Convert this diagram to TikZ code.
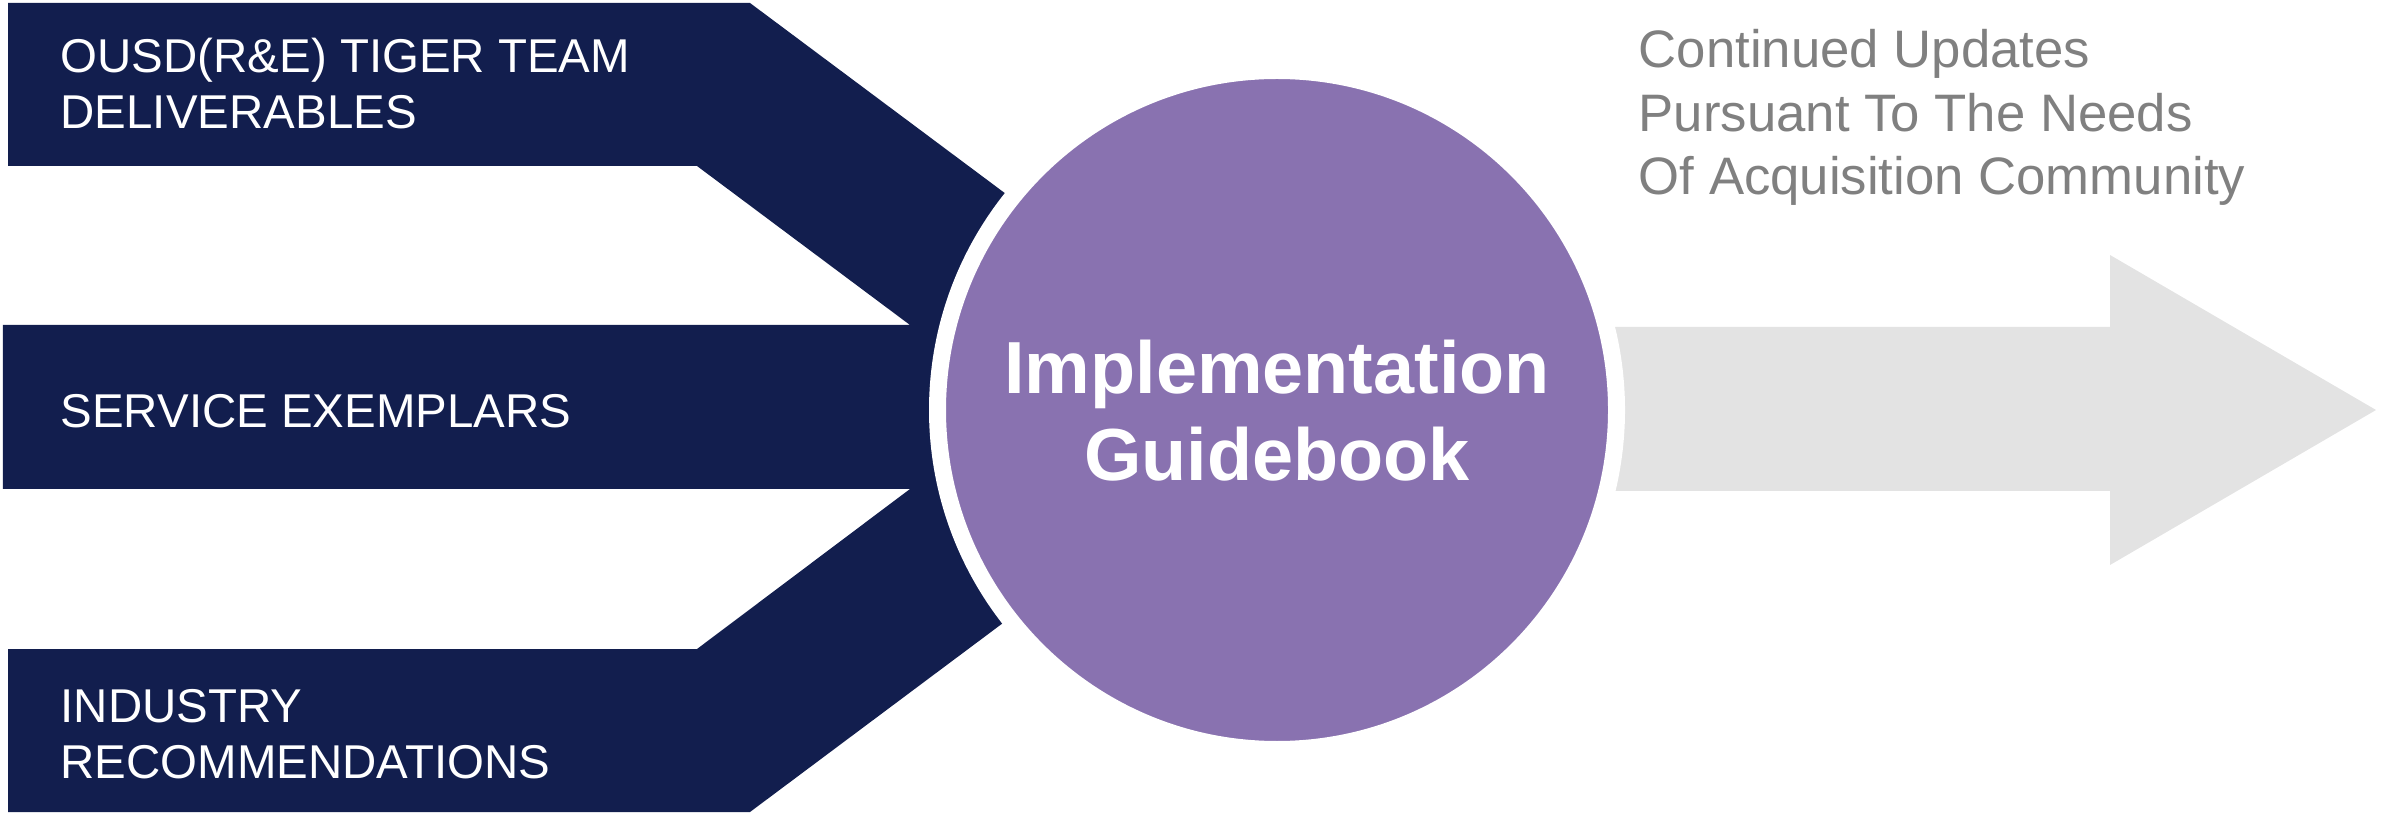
\documentclass[tikz,border=0pt]{standalone}
\usepackage{fontspec}
\setmainfont{Liberation Sans}
\definecolor{navy}{RGB}{18,30,78}
\definecolor{guide}{RGB}{137,114,176}
\definecolor{flow}{RGB}{227,227,227}
\definecolor{notegray}{RGB}{128,128,128}

\begin{document}
\begin{tikzpicture}[
        inlabel/.style = {anchor=base west, align=left, text=white, inner sep=0,
                font=\fontsize{13.5}{16.2}\selectfont},
        note/.style = {anchor=base west, align=left, text=notegray, inner sep=0,
                font=\fontsize{15}{18.2}\selectfont}]
        \useasboundingbox (0, 0) rectangle (23.82, -8.15);
        % the three inputs, merged into one dark shape
        \fill[navy] (0.08, -0.03) -- (7.50, -0.03) -- (10.06, -1.94) -- (10.03, -6.23)
                -- (7.50, -8.12) -- (0.08, -8.12) -- (0.08, -6.49) -- (6.97, -6.49)
                -- (9.10, -4.89) -- (0.03, -4.89) -- (0.03, -3.25) -- (9.10, -3.25)
                -- (6.97, -1.66) -- (0.08, -1.66) -- cycle;
        % output arrow
        \fill[flow] (15.40, -3.27) -- (21.10, -3.27) -- (21.10, -2.55) -- (23.76, -4.10)
                -- (21.10, -5.65) -- (21.10, -4.91) -- (15.40, -4.91) -- cycle;
        \node[circle, fill=guide, draw=white, line width=1.7mm, minimum size=6.79cm,
                inner sep=0] (guide) at (12.77, -4.10) {};
        % base anchor sits on the last line
        \node[anchor=base, align=center, text=white, inner sep=0,
                font=\fontsize{21}{25}\selectfont\bfseries] (guidetext) at (12.77, -4.81)
                {Implementation\\Guidebook};
        \node[inlabel] (tiger) at (0.60, -1.29) {OUSD(R\&E) TIGER TEAM\\DELIVERABLES};
        \node[inlabel] (service) at (0.60, -4.28) {SERVICE EXEMPLARS};
        \node[inlabel] (industry) at (0.60, -7.79) {INDUSTRY\\RECOMMENDATIONS};
        \node[note] (updates) at (16.38, -1.95)
                {Continued Updates\\Pursuant To The Needs\\Of Acquisition Community};
\end{tikzpicture}
\end{document}
